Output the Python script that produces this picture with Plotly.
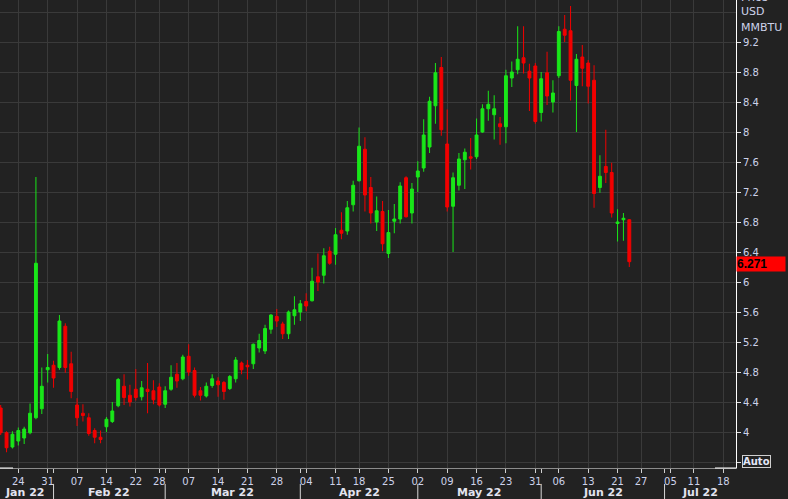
import pandas as pd
import plotly.graph_objects as go

# ---------------- data ----------------
dates = [
    "2022-01-19", "2022-01-20", "2022-01-21", "2022-01-24", "2022-01-25", "2022-01-26", "2022-01-27", "2022-01-28",
    "2022-01-31", "2022-02-01", "2022-02-02", "2022-02-03", "2022-02-04",
    "2022-02-07", "2022-02-08", "2022-02-09", "2022-02-10", "2022-02-11",
    "2022-02-14", "2022-02-15", "2022-02-16", "2022-02-17", "2022-02-18",
    "2022-02-22", "2022-02-23", "2022-02-24", "2022-02-25",
    "2022-02-28", "2022-03-01", "2022-03-02", "2022-03-03", "2022-03-04",
    "2022-03-07", "2022-03-08", "2022-03-09", "2022-03-10", "2022-03-11",
    "2022-03-14", "2022-03-15", "2022-03-16", "2022-03-17", "2022-03-18",
    "2022-03-21", "2022-03-22", "2022-03-23", "2022-03-24", "2022-03-25",
    "2022-03-28", "2022-03-29", "2022-03-30", "2022-03-31", "2022-04-01",
    "2022-04-04", "2022-04-05", "2022-04-06", "2022-04-07", "2022-04-08",
    "2022-04-11", "2022-04-12", "2022-04-13", "2022-04-14",
    "2022-04-18", "2022-04-19", "2022-04-20", "2022-04-21", "2022-04-22",
    "2022-04-25", "2022-04-26", "2022-04-27", "2022-04-28", "2022-04-29",
    "2022-05-02", "2022-05-03", "2022-05-04", "2022-05-05", "2022-05-06",
    "2022-05-09", "2022-05-10", "2022-05-11", "2022-05-12", "2022-05-13",
    "2022-05-16", "2022-05-17", "2022-05-18", "2022-05-19", "2022-05-20",
    "2022-05-23", "2022-05-24", "2022-05-25", "2022-05-26", "2022-05-27",
    "2022-05-31", "2022-06-01", "2022-06-02", "2022-06-03",
    "2022-06-06", "2022-06-07", "2022-06-08", "2022-06-09", "2022-06-10",
    "2022-06-13", "2022-06-14", "2022-06-15", "2022-06-16", "2022-06-17",
    "2022-06-21", "2022-06-22", "2022-06-23",
]
opens = [
    4.32, 3.99, 3.80, 3.88, 3.92, 3.99, 4.19, 4.31,
    4.83, 4.89, 4.86, 5.41, 4.91,
    4.36, 4.25, 4.19, 4.02, 3.93,
    4.07, 4.14, 4.35, 4.61, 4.49,
    4.57, 4.47, 4.57, 4.55,
    4.60, 4.37, 4.57, 4.77, 4.71,
    5.01, 4.82, 4.55, 4.48, 4.62,
    4.68, 4.66, 4.58, 4.71, 4.92,
    4.89, 4.91, 5.12, 5.08, 5.37,
    5.54, 5.44, 5.31, 5.55, 5.60,
    5.74, 5.75, 6.07, 6.09, 6.41,
    6.37, 6.69, 6.68, 7.03,
    7.35, 7.77, 7.26, 6.80, 6.94,
    6.38, 6.81, 6.84, 7.39, 6.92,
    7.40, 7.52, 7.80, 8.35, 8.86,
    7.84, 7.01, 7.29, 7.63, 7.67,
    7.67, 8.00, 8.31, 8.23, 8.11,
    8.07, 8.72, 8.83, 8.99, 8.81,
    8.88, 8.26, 8.79, 8.40,
    8.75, 9.37, 9.35, 8.62, 9.00,
    8.92, 8.69, 7.26, 7.54, 7.46,
    6.78, 6.83, 6.83,
]
highs = [
    4.36, 4.01, 4.01, 4.06, 4.07, 4.38, 7.40, 4.86,
    5.04, 4.95, 5.56, 5.45, 5.07,
    4.45, 4.37, 4.25, 4.05, 4.02,
    4.20, 4.40, 4.72, 4.77, 4.63,
    4.84, 4.68, 4.92, 4.69,
    4.65, 4.61, 4.89, 4.92, 5.03,
    5.17, 4.86, 4.60, 4.66, 4.77,
    4.73, 4.68, 4.76, 5.00, 4.94,
    4.96, 5.18, 5.31, 5.43, 5.57,
    5.64, 5.47, 5.62, 5.81, 5.76,
    5.85, 6.19, 6.38, 6.45, 6.47,
    6.72, 6.93, 7.08, 7.35,
    8.06, 7.93, 7.40, 7.14, 7.08,
    6.96, 7.04, 7.33, 7.41, 7.32,
    7.61, 8.17, 8.47, 8.92, 9.00,
    8.30, 7.46, 7.72, 7.78, 7.92,
    8.18, 8.37, 8.55, 8.49, 8.20,
    8.83, 8.94, 9.41, 9.41, 8.91,
    8.92, 8.80, 9.07, 8.69,
    9.41, 9.56, 9.68, 9.04, 9.16,
    8.96, 8.89, 7.69, 8.03, 7.59,
    6.97, 6.92, 6.84,
]
lows = [
    3.96, 3.73, 3.78, 3.82, 3.84, 3.97, 4.17, 4.24,
    4.66, 4.59, 4.83, 4.79, 4.45,
    4.08, 4.14, 3.95, 3.85, 3.85,
    4.00, 4.12, 4.33, 4.36, 4.34,
    4.42, 4.42, 4.25, 4.37,
    4.34, 4.32, 4.55, 4.59, 4.69,
    4.75, 4.46, 4.42, 4.46, 4.59,
    4.47, 4.43, 4.56, 4.66, 4.77,
    4.70, 4.84, 5.06, 5.04, 5.31,
    5.40, 5.24, 5.24, 5.43, 5.48,
    5.61, 5.74, 5.88, 5.98, 6.23,
    6.23, 6.57, 6.63, 6.94,
    7.34, 6.94, 6.78, 6.68, 6.41,
    6.32, 6.65, 6.78, 6.86, 6.78,
    7.20, 7.47, 7.72, 8.11, 7.95,
    6.94, 6.40, 7.22, 7.24, 7.50,
    7.64, 7.99, 8.15, 7.90, 7.83,
    7.85, 8.60, 8.77, 8.78, 8.28,
    8.11, 8.14, 8.36, 8.26,
    8.72, 9.20, 8.42, 8.00, 8.61,
    8.38, 6.99, 7.19, 7.32, 6.86,
    6.54, 6.55, 6.20,
]
closes = [
    3.99, 3.79, 3.97, 4.02, 4.04, 4.25, 6.25, 4.61,
    4.86, 4.72, 5.48, 4.86, 4.54,
    4.19, 4.22, 3.98, 3.93, 3.90,
    4.17, 4.28, 4.70, 4.46, 4.40,
    4.46, 4.59, 4.54, 4.43,
    4.36, 4.55, 4.73, 4.68, 5.00,
    4.80, 4.49, 4.49, 4.61, 4.71,
    4.63, 4.54, 4.74, 4.96, 4.83,
    4.87, 5.17, 5.22, 5.38, 5.56,
    5.48, 5.31, 5.60, 5.63, 5.71,
    5.68, 6.01, 6.00, 6.35, 6.25,
    6.63, 6.65, 6.99, 7.29,
    7.81, 7.16, 6.92, 6.95, 6.51,
    6.66, 6.84, 7.28, 6.87, 7.24,
    7.48, 7.96, 8.41, 8.79, 8.03,
    7.00, 7.39, 7.64, 7.73, 7.65,
    7.96, 8.31, 8.37, 8.31, 8.07,
    8.75, 8.80, 8.97, 8.92, 8.72,
    8.14, 8.71, 8.48, 8.52,
    9.34, 9.29, 8.69, 8.97, 8.85,
    8.61, 7.18, 7.41, 7.46, 6.92,
    6.80, 6.85, 6.271,
]
last_price = 6.271

holidays = ["2022-01-17", "2022-02-21", "2022-04-15", "2022-05-30", "2022-06-20", "2022-07-04"]
tick_dates = ["2022-01-24", "2022-01-31", "2022-02-07", "2022-02-14", "2022-02-22", "2022-02-28",
              "2022-03-07", "2022-03-14", "2022-03-21", "2022-03-28", "2022-04-04", "2022-04-11",
              "2022-04-18", "2022-04-25", "2022-05-02", "2022-05-09", "2022-05-16", "2022-05-23",
              "2022-05-31", "2022-06-06", "2022-06-13", "2022-06-21", "2022-06-27", "2022-07-05",
              "2022-07-11", "2022-07-18"]
tick_labels = [d[-2:] for d in tick_dates]
month_starts = ["2022-01-18", "2022-02-01", "2022-03-01", "2022-04-01", "2022-05-02", "2022-06-01", "2022-07-01"]
month_labels = ["Jan 22", "Feb 22", "Mar 22", "Apr 22", "May 22", "Jun 22", "Jul 22"]
y_tick_vals = [3.6, 4.0, 4.4, 4.8, 5.2, 5.6, 6.0, 6.4, 6.8, 7.2, 7.6, 8.0, 8.4, 8.8, 9.2]
y_tick_text = ["", "4", "4.4", "4.8", "5.2", "5.6", "6", "6.4", "6.8", "7.2", "7.6", "8", "8.4", "8.8", "9.2"]
grid_levels = [3.6, 4.0, 4.4, 4.8, 5.2, 5.6, 6.0, 6.4, 6.8, 7.2, 7.6, 8.0, 8.4, 8.8, 9.2, 9.6]
unit_lines = ["Price", "USD", "MMBTU"]

# ---------------- trading-day calendar ----------------
cal = pd.bdate_range("2022-01-18", "2022-07-29")
cal = cal[~cal.isin(pd.to_datetime(holidays))]
pos = {d.strftime("%Y-%m-%d"): i for i, d in enumerate(cal)}
xs = [pos[d] for d in dates]
x_range = [0.885, 126.16]

BG = "#222222"
GRID = "#3a3a3a"
GREEN = "#19e619"
RED = "#f20000"
TXT = "#cdd2ea"
FONT = "DejaVu Sans"

fig = go.Figure()
fig.add_trace(go.Candlestick(
    x=xs, open=opens, high=highs, low=lows, close=closes,
    increasing=dict(line=dict(color=GREEN, width=1), fillcolor=GREEN),
    decreasing=dict(line=dict(color=RED, width=1), fillcolor=RED),
    whiskerwidth=0, showlegend=False, hoverinfo="skip",
))

fig.update_layout(
    width=788, height=499,
    margin=dict(l=0, r=52, t=0, b=31),
    paper_bgcolor=BG, plot_bgcolor=BG,
    showlegend=False,
    xaxis=dict(
        range=x_range, tickmode="array",
        tickvals=[pos[d] for d in tick_dates], ticktext=tick_labels,
        showgrid=True, gridcolor=GRID, gridwidth=1, zeroline=False,
        ticks="outside", ticklen=4, tickcolor="#d0d0d0",
        tickfont=dict(family=FONT, size=10, color=TXT),
        showline=True, linecolor="#8c8c8c", linewidth=1,
        rangeslider=dict(visible=False), fixedrange=True,
        minor=dict(tickmode="array", tickvals=[pos[d] for d in month_starts[1:]],
                   ticks="outside", ticklen=4, tickcolor="#d0d0d0", showgrid=False),
    ),
    yaxis=dict(
        side="right", range=[3.52, 9.76], tickmode="array",
        tickvals=y_tick_vals, ticktext=y_tick_text,
        showgrid=True, gridcolor=GRID, gridwidth=1, zeroline=False,
        ticks="outside", ticklen=4, tickcolor="#e0e0e0",
        tickfont=dict(family=FONT, size=10, color=TXT),
        showline=True, linecolor="#ffffff", linewidth=1, fixedrange=True,
        minor=dict(tickmode="array", tickvals=grid_levels, showgrid=True,
                   gridcolor=GRID, ticks=""),
    ),
)

# month separators and month labels (bottom row)
bounds = [pos[d] for d in month_starts] + [x_range[1]]
for i, lab in enumerate(month_labels):
    mid = (bounds[i] + bounds[i + 1]) / 2
    fig.add_annotation(x=mid, xref="x", y=-0.0513, yref="paper", yanchor="middle",
                       text=f"<b>{lab}</b>", showarrow=False,
                       font=dict(family=FONT, size=11, color="#e2e4f0"))
for d in month_starts[1:]:
    fig.add_shape(type="line", xref="x", yref="paper", x0=pos[d], x1=pos[d],
                  y0=-0.034, y1=-0.0662, line=dict(color="#d8d8d8", width=1))

# scroll thumb segments on the axis line
fig.add_shape(type="line", xref="paper", yref="paper", x0=0, x1=13 / 736, y0=0, y1=0,
              line=dict(color="#ffffff", width=1))
fig.add_shape(type="line", xref="paper", yref="paper", x0=715 / 736, x1=1, y0=0, y1=0,
              line=dict(color="#ffffff", width=1))

# unit text top-right
for txt, yp in zip(unit_lines, [1.0064, 0.9744, 0.9423]):
    fig.add_annotation(x=1.0045, xref="paper", xanchor="left", y=yp, yref="paper",
                       yanchor="middle", text=txt, showarrow=False,
                       font=dict(family=FONT, size=11, color=TXT))

# last price tag
fig.add_annotation(x=1.0, xref="paper", xanchor="left", y=last_price, yref="y",
                   yanchor="middle", yshift=-2, text=f"<b>{last_price}</b>", showarrow=False,
                   bgcolor="#ff0000", width=48, align="left", borderpad=0,
                   font=dict(family="Liberation Sans", size=12, color="#000000"))

# "Auto" button
fig.add_annotation(x=1.0279, xref="paper", y=0.0139, yref="paper", xanchor="center",
                   yanchor="middle", text="<b>Auto</b>", showarrow=False,
                   bordercolor="#cfcfcf", borderwidth=1, borderpad=0,
                   font=dict(family=FONT, size=10, color="#e2e6f6"))

fig.write_html(
    "out.html",
    config={"displayModeBar": False},
    post_script="document.body.style.margin='0';document.body.style.background='#222222';",
)
